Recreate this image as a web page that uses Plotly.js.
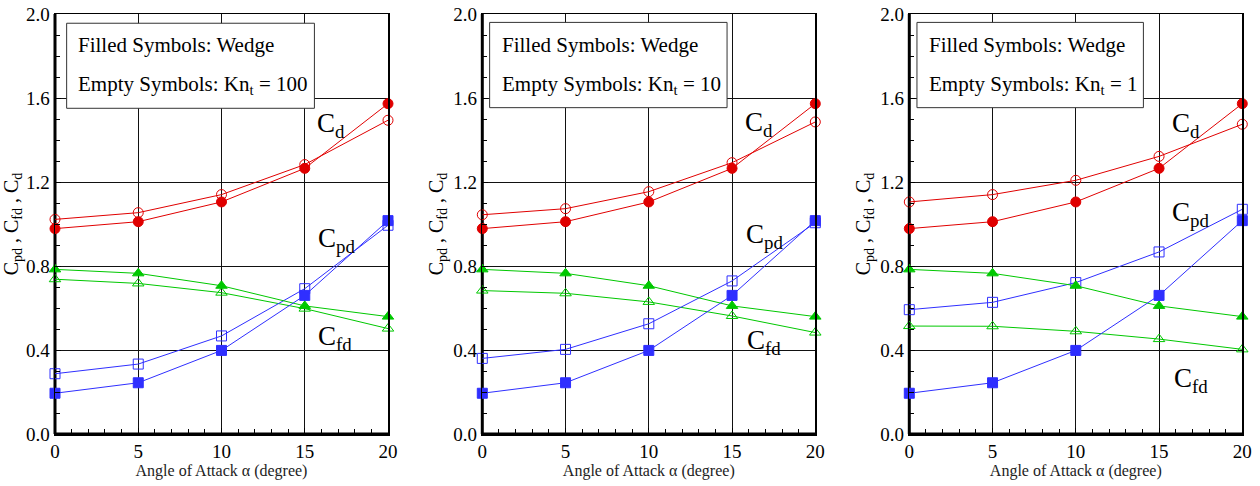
<!DOCTYPE html>
<html>
<head>
<meta charset="utf-8">
<script src="https://cdn.plot.ly/plotly-3.0.1.min.js"></script>
<style>html,body{margin:0;padding:0;background:#fff;}#chart{width:1260px;height:486px;}</style>
</head>
<body>
<div id="chart"></div>
<script>
// Angle of attack (degree)
const alpha = [0, 5, 10, 15, 20];

// Wedge (filled symbols) - same in every panel
const wedgeCd  = [0.978, 1.011, 1.105, 1.265, 1.573];
const wedgeCfd = [0.784, 0.765, 0.706, 0.610, 0.559];
const wedgeCpd = [0.194, 0.244, 0.398, 0.660, 1.016];

// Kn_t = 100 (empty symbols, panel 1)
const kn100Cd  = [1.022, 1.054, 1.140, 1.283, 1.494];
const kn100Cfd = [0.737, 0.717, 0.673, 0.597, 0.502];
const kn100Cpd = [0.287, 0.333, 0.467, 0.692, 0.994];

// Kn_t = 10 (empty symbols, panel 2)
const kn10Cd  = [1.044, 1.073, 1.154, 1.292, 1.486];
const kn10Cfd = [0.683, 0.670, 0.629, 0.562, 0.483];
const kn10Cpd = [0.360, 0.403, 0.525, 0.729, 1.006];

// Kn_t = 1 (empty symbols, panel 3)
const kn1Cd  = [1.105, 1.140, 1.208, 1.322, 1.475];
const kn1Cfd = [0.514, 0.513, 0.489, 0.452, 0.403];
const kn1Cpd = [0.592, 0.627, 0.721, 0.867, 1.070];

const knLabels = ["100", "10", "1"];

const RED = "#e00000", GREEN = "#00c800", BLUE = "#2f2fff";
const FONT = "Liberation Serif";

const panels = [
  {cd: kn100Cd, cfd: kn100Cfd, cpd: kn100Cpd},
  {cd: kn10Cd,  cfd: kn10Cfd,  cpd: kn10Cpd},
  {cd: kn1Cd,   cfd: kn1Cfd,   cpd: kn1Cpd}
];

const W = 1260;
const xDomPx = [[55, 388], [482.3, 815.3], [909.3, 1242.3]];
const boxes = [[0.035, 0.779], [0.022, 0.735], [0.023, 0.703]];
const boxY = [[0.7755, 0.978], [0.777, 0.980], [0.777, 0.980]];
const textX = [0.062, 0.052, 0.053];
const labelPos = [
  {cd: [15.6, 1.47], cpd: [15.7, 0.925], cfd: [15.7, 0.455]},
  {cd: [15.66, 1.475], cpd: [15.7, 0.945], cfd: [15.78, 0.437]},
  {cd: [15.66, 1.47], cpd: [15.66, 1.05], cfd: [15.78, 0.255]}
];

const traces = [];
const layout = {
  width: 1260, height: 486,
  margin: {l: 0, r: 0, t: 14, b: 52},
  paper_bgcolor: "#fff", plot_bgcolor: "#fff",
  showlegend: false,
  font: {family: FONT, color: "#000"},
  shapes: [], annotations: []
};

function line(x, y, color, symbol, xa, ya) {
  return {
    x: x, y: y, type: "scatter", mode: "lines+markers",
    xaxis: xa, yaxis: ya, cliponaxis: false,
    line: {color: color, width: 1},
    marker: {symbol: symbol, size: 10, color: color,
             line: {color: color, width: 1}}
  };
}

panels.forEach((p, i) => {
  const n = i === 0 ? "" : String(i + 1);
  const xa = "x" + n, ya = "y" + n;
  traces.push(line(alpha, p.cd,  RED,   "circle-open",   xa, ya));
  traces.push(line(alpha, p.cfd, GREEN, "triangle-up-open", xa, ya));
  traces.push(line(alpha, p.cpd, BLUE,  "square-open",   xa, ya));
  traces.push(line(alpha, wedgeCd,  RED,   "circle",      xa, ya));
  traces.push(line(alpha, wedgeCfd, GREEN, "triangle-up", xa, ya));
  traces.push(line(alpha, wedgeCpd, BLUE,  "square",      xa, ya));

  layout["xaxis" + n] = {
    domain: [xDomPx[i][0] / W, xDomPx[i][1] / W],
    anchor: ya, range: [0, 20], dtick: 5, tick0: 0,
    showgrid: true, gridcolor: "#111", gridwidth: 1,
    zeroline: false, showline: true, linecolor: "#000", linewidth: 1.5, mirror: true,
    ticks: "inside", ticklen: 6, tickcolor: "#000",
    minor: {dtick: 1, ticks: "inside", ticklen: 5, tickcolor: "#000", showgrid: false},
    tickfont: {family: FONT, size: 19, color: "#000"},
    title: {text: "Angle of Attack \u03b1 (degree)", font: {family: FONT, size: 16, color: "#222"}, standoff: 2},
    fixedrange: true
  };
  layout["yaxis" + n] = {
    domain: [0, 1], anchor: xa, range: [0, 2], dtick: 0.4, tick0: 0,
    tickformat: ".1f",
    showgrid: true, gridcolor: "#111", gridwidth: 1,
    zeroline: false, showline: true, linecolor: "#000", linewidth: 1.5, mirror: true,
    ticks: "inside", ticklen: 6, tickcolor: "#000",
    minor: {dtick: 0.1, ticks: "inside", ticklen: 5, tickcolor: "#000", showgrid: false},
    tickfont: {family: FONT, size: 19, color: "#000"},
    title: {text: "C<sub>pd</sub> , C<sub>fd</sub> , C<sub>d</sub>", font: {family: FONT, size: 20, color: "#000"}, standoff: 4},
    fixedrange: true
  };

  // thick left and bottom axis lines
  layout.shapes.push({type: "line", xref: xa + " domain", yref: ya + " domain",
    x0: 0, x1: 0, y0: 0, y1: 1, line: {color: "#000", width: 3}, layer: "below"});
  layout.shapes.push({type: "line", xref: xa + " domain", yref: ya + " domain",
    x0: 0, x1: 1, y0: 0, y1: 0, line: {color: "#000", width: 3}, layer: "below"});
  // legend box
  layout.shapes.push({type: "rect", xref: xa + " domain", yref: ya + " domain",
    x0: boxes[i][0], x1: boxes[i][1], y0: boxY[i][0], y1: boxY[i][1],
    line: {color: "#333", width: 1}, fillcolor: "#fff", layer: "above"});

  layout.annotations.push({xref: xa + " domain", yref: ya + " domain",
    x: textX[i], y: 0.925, xanchor: "left", yanchor: "middle", showarrow: false,
    text: "Filled Symbols: Wedge", font: {family: FONT, size: 21, color: "#000"}});
  layout.annotations.push({xref: xa + " domain", yref: ya + " domain",
    x: textX[i], y: 0.83, xanchor: "left", yanchor: "middle", showarrow: false,
    text: "Empty Symbols: Kn<sub>t</sub> = " + knLabels[i], font: {family: FONT, size: 21, color: "#000"}});

  const lp = labelPos[i];
  [["C<sub>d</sub>", lp.cd], ["C<sub>pd</sub>", lp.cpd], ["C<sub>fd</sub>", lp.cfd]].forEach(([t, pos]) => {
    layout.annotations.push({xref: xa, yref: ya, x: pos[0], y: pos[1],
      xanchor: "left", yanchor: "middle", showarrow: false, text: t,
      font: {family: FONT, size: 27, color: "#000"}});
  });
});

Plotly.newPlot("chart", traces, layout, {displayModeBar: false, staticPlot: true});
</script>
</body>
</html>
